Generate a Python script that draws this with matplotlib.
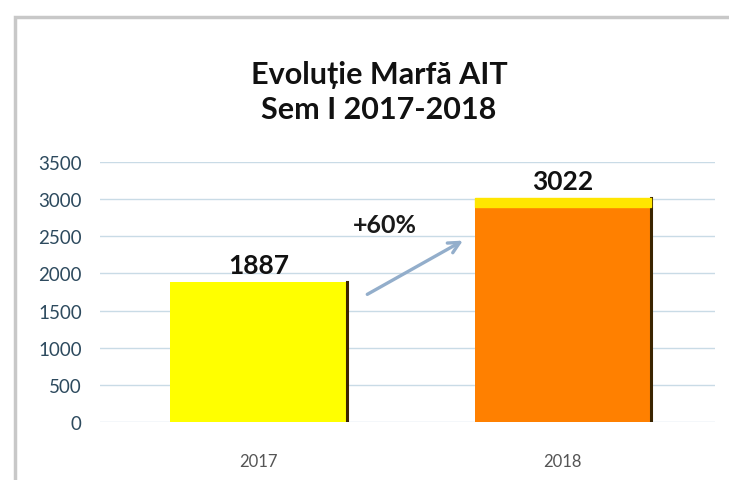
import matplotlib.pyplot as plt
from matplotlib.patches import Rectangle

years = ['2017', '2018']
values = [1887, 3022]
bar_colors = ['#FFFF00', '#FF8000']
growth_label = '+60%'

plt.rcParams['font.family'] = ['Lato', 'DejaVu Sans']

fig = plt.figure(figsize=(7.29, 4.81), dpi=100)
ax = fig.add_axes([0.137, 0.1206, 0.844, 0.5405])

x = range(len(years))
bars = ax.bar(x, values, width=0.58, color=bar_colors, edgecolor='none', zorder=2)

# dark shadow on the right side of each bar, yellow top strip on the orange one
for b in bars:
    ax.plot([b.get_x() + b.get_width()] * 2, [0, b.get_height()], color='#3a2400', lw=2.2, zorder=3)
top = bars[1]
ax.add_patch(Rectangle((top.get_x(), top.get_height() - 130), top.get_width(), 130,
                       color='#FFE600', zorder=3))

for b, v in zip(bars, values):
    ax.text(b.get_x() + b.get_width() / 2, v + 60, str(v), ha='center', va='bottom',
            fontsize=19, fontweight='bold', color='#111111', zorder=4)

ax.annotate('', xy=(0.68, 2460), xytext=(0.35, 1700),
            arrowprops=dict(arrowstyle='->', color='#93aecb', lw=2.4, mutation_scale=20), zorder=4)
ax.text(0.415, 2500, growth_label, ha='center', va='bottom', fontsize=18,
        fontweight='bold', color='#1a1a1a', zorder=4)

ax.set_ylim(0, 3500)
ax.set_xlim(-0.52, 1.5)
ax.set_yticks(range(0, 3501, 500))
ax.set_xticks(list(x))
ax.set_xticklabels(years, fontsize=12, color='#555555')
ax.tick_params(axis='y', labelsize=13.5, colors='#2d4a5e', length=0, pad=13)
ax.tick_params(axis='x', length=0, pad=22)
ax.grid(axis='y', color='#c9dbe6', lw=1, zorder=0)
for s in ax.spines.values():
    s.set_visible(False)

fig.text(0.52, 0.845, 'Evoluție Marfă AIT', ha='center', va='center',
         fontsize=22, fontweight='bold', color='#111111')
fig.text(0.52, 0.771, 'Sem I 2017-2018', ha='center', va='center',
         fontsize=22, fontweight='bold', color='#111111')

# outer frame of the pasted chart
fig.patches.append(Rectangle((0.02, -0.05), 1.2, 1.012, transform=fig.transFigure,
                             fill=False, edgecolor='#c8c8c8', lw=2.5))

fig.savefig('out.png', dpi=100)
